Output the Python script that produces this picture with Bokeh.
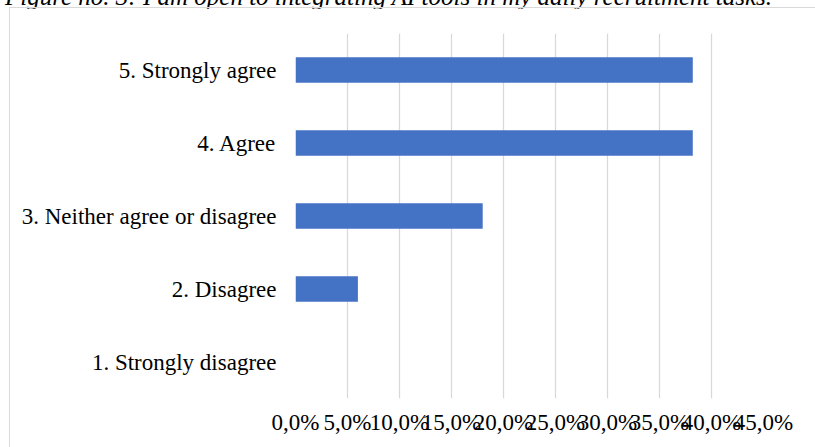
from bokeh.plotting import figure
from bokeh.layouts import column
from bokeh.models import FactorRange, Range1d, FixedTicker, Div
from bokeh.embed import file_html
from bokeh.resources import INLINE

categories = [
    "1. Strongly disagree",
    "2. Disagree",
    "3. Neither agree or disagree",
    "4. Agree",
    "5. Strongly agree",
]
shares = [0.0, 0.060, 0.180, 0.382, 0.382]
tick_values = [0.0, 0.05, 0.10, 0.15, 0.20, 0.25, 0.30, 0.35, 0.40, 0.45]
tick_labels = ["0,0%", "5,0%", "10,0%", "15,0%", "20,0%", "25,0%", "30,0%", "35,0%", "40,0%", "45,0%"]
title_text = "Figure no. 3: I am open to integrating AI tools in my daily recruitment tasks."

FONT = "Liberation Serif"
GRID = "#d9d9d9"

p = figure(
    width=806, height=440,
    y_range=FactorRange(factors=categories, range_padding=0),
    x_range=Range1d(0, 0.45),
    output_backend="svg", toolbar_location=None,
    min_border_left=285, min_border_right=53,
    min_border_top=25, min_border_bottom=50,
)
p.outline_line_color = None
p.background_fill_color = "white"
p.border_fill_color = "white"

p.hbar(y=categories, right=shares, left=0, height=0.35,
       fill_color="#4472C4", line_color=None)

# axes: labels only, no lines or ticks
p.xaxis.ticker = FixedTicker(ticks=tick_values)
p.xaxis.major_label_overrides = {v: s for v, s in zip(tick_values, tick_labels)}
for ax in (p.xaxis[0], p.yaxis[0]):
    ax.axis_line_color = None
    ax.major_tick_line_color = None
    ax.minor_tick_line_color = None
    ax.major_label_text_font = FONT
    ax.major_label_text_font_size = "23px"
    ax.major_label_text_color = "black"
p.xaxis.major_label_standoff = 5
p.yaxis.major_label_standoff = 13

p.xgrid.ticker = FixedTicker(ticks=tick_values)
p.xgrid.grid_line_color = GRID
p.xgrid.grid_line_width = 1.3
p.ygrid.grid_line_color = None

# chart-area frame (left and top edges)
p.styles = {
    "margin-left": "9px",
    "border-left": f"1.3px solid {GRID}",
    "border-top": f"1.3px solid {GRID}",
}

caption = Div(
    text=title_text, width=815, height=30,
    styles={
        "font-family": FONT,
        "font-style": "italic",
        "font-size": "25px",
        "line-height": "30px",
        "white-space": "nowrap",
        "color": "black",
        "margin-top": "-18px",
        "margin-bottom": "-5px",
    },
)

root = column(caption, p, spacing=0)
open("out.html", "w").write(file_html(root, INLINE))
